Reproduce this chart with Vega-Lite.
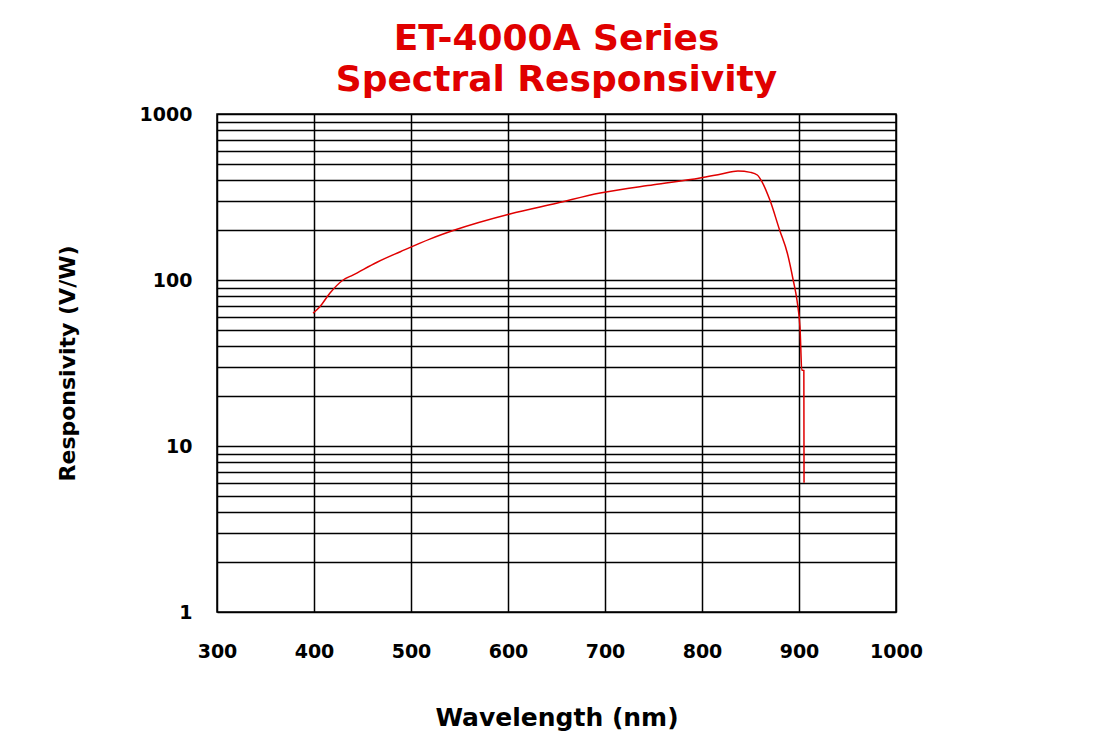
{
  "$schema": "https://vega.github.io/schema/vega-lite/v6.json",
  "autosize": {"type": "none"},
  "padding": {"left": 217, "top": 114, "right": 206, "bottom": 139},
  "width": 679,
  "height": 498,
  "background": "white",
  "title": {
    "text": ["ET-4000A Series", "Spectral Responsivity"],
    "color": "#e00000",
    "font": "DejaVu Sans",
    "fontSize": 36,
    "fontWeight": "bold",
    "lineHeight": 41,
    "anchor": "middle",
    "offset": 6
  },
  "config": {
    "view": {"stroke": "black", "strokeWidth": 1.5},
    "axis": {
      "grid": true,
      "gridColor": "black",
      "gridOpacity": 1,
      "gridWidth": 1.5,
      "domain": false,
      "ticks": false,
      "labelFont": "DejaVu Sans",
      "labelFontWeight": "bold",
      "labelFontSize": 19,
      "labelColor": "black",
      "titleFont": "DejaVu Sans",
      "titleFontWeight": "bold",
      "titleColor": "black"
    }
  },
  "data": {
    "values": [
      {"wl": 399, "r": 63},
      {"wl": 406, "r": 69},
      {"wl": 416.5, "r": 83.5},
      {"wl": 430, "r": 100},
      {"wl": 440, "r": 107},
      {"wl": 465, "r": 128},
      {"wl": 489, "r": 148},
      {"wl": 520, "r": 177},
      {"wl": 545, "r": 200},
      {"wl": 602, "r": 250},
      {"wl": 650, "r": 290},
      {"wl": 695, "r": 334},
      {"wl": 750, "r": 375},
      {"wl": 798, "r": 411},
      {"wl": 820, "r": 435},
      {"wl": 837, "r": 454},
      {"wl": 850, "r": 445},
      {"wl": 857, "r": 429},
      {"wl": 862, "r": 389},
      {"wl": 870, "r": 303},
      {"wl": 880, "r": 200},
      {"wl": 888, "r": 145},
      {"wl": 894, "r": 100},
      {"wl": 898, "r": 75},
      {"wl": 901, "r": 52},
      {"wl": 903, "r": 28.7},
      {"wl": 905, "r": 28.5},
      {"wl": 905.2, "r": 6.0}
    ]
  },
  "mark": {"type": "line", "color": "#e00000", "strokeWidth": 1.5, "clip": true, "interpolate": "monotone"},
  "encoding": {
    "x": {
      "field": "wl",
      "type": "quantitative",
      "scale": {"domain": [300, 1000], "nice": false, "zero": false},
      "axis": {
        "values": [300, 400, 500, 600, 700, 800, 900, 1000],
        "format": "d",
        "labelFlush": false,
        "labelOverlap": false,
        "labelPadding": 30,
        "title": "Wavelength (nm)",
        "titleFontSize": 25,
        "titlePadding": 44
      }
    },
    "y": {
      "field": "r",
      "type": "quantitative",
      "scale": {"type": "log", "domain": [1, 1000], "nice": false},
      "axis": {
        "values": [1, 2, 3, 4, 5, 6, 7, 8, 9, 10, 20, 30, 40, 50, 60, 70, 80, 90, 100, 200, 300, 400, 500, 600, 700, 800, 900, 1000],
        "labelExpr": "indexof([1,10,100,1000], datum.value) >= 0 ? datum.value : ''",
        "labelPadding": 25,
        "labelBound": false,
        "labelFlush": false,
        "labelOverlap": false,
        "title": "Responsivity (V/W)",
        "titleFontSize": 22,
        "titlePadding": 60
      }
    }
  }
}
